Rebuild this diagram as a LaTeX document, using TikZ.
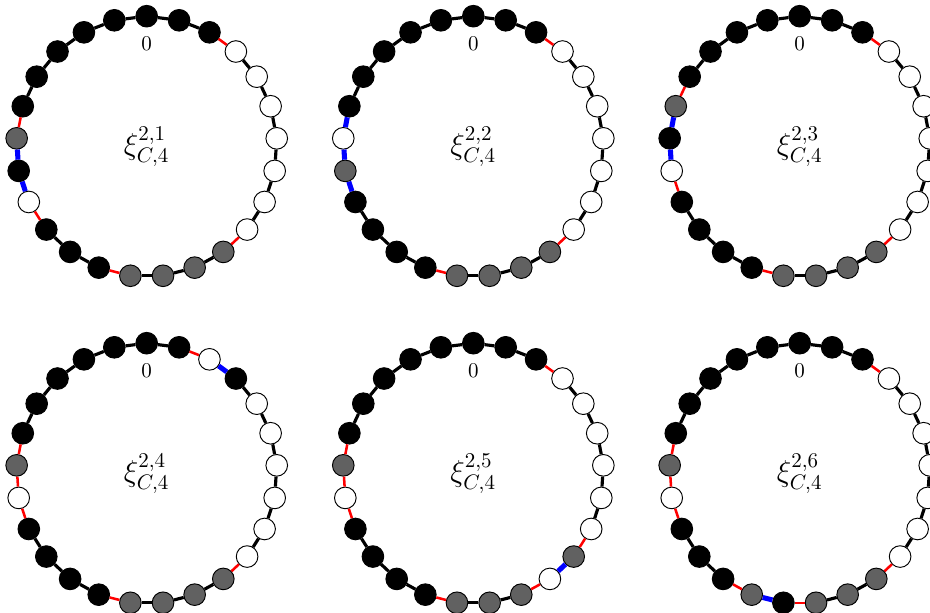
\documentclass[tikz,border=0pt]{standalone}
\usetikzlibrary{calc}
\tikzset{
  vbase/.style={circle, draw=black, line width=0.45pt, inner sep=0pt, minimum size=10.3pt},
  vB/.style={vbase, fill=black},
  vW/.style={vbase, fill=white},
  vG/.style={vbase, fill=black!62},
  ek/.style={draw=black, line width=1.5pt},
  er/.style={draw=red, line width=1.2pt},
  eb/.style={draw=blue, line width=2.4pt},
  zerolab/.style={inner sep=0pt, font=\normalsize},
  xilab/.style={inner sep=0pt, font=\Large},
}
\newcommand\myring[6]{%
  \foreach \c [count=\i from 0] in {#4} {
    \pgfmathsetmacro\a{90-14.4*\i}
    \node[v\c] (#1-\i) at ({#2+130.3*cos(\a)},{#3-130.3*sin(\a)}) {};
  }
  \foreach \e [count=\i from 0] in {#5} {
    \pgfmathtruncatemacro\j{mod(\i+1,25)}
    \draw[e\e] (#1-\i) -- (#1-\j);
  }
  \node[zerolab] (#1-z) at (#2,#3-102.5) {0};
  \node[xilab] (#1-x) at (#2,#3) {$\xi^{2,#6}_{C,4}$};
}
\begin{document}
\begin{tikzpicture}[x=0.476pt,y=-0.476pt]
\useasboundingbox (0,0) rectangle (930,612);
% circle 1
\myring{a}{146.7}{146.5}
 {B,B,B,W,W,W,W,W,W,W,G,G,G,G,B,B,B,W,B,G,B,B,B,B,B}
 {k,k,r,k,k,k,k,k,k,r,k,k,k,r,k,k,r,b,b,r,k,k,k,k,k}{1}
% circle 2
\myring{b}{473.3}{146.5}
 {B,B,B,W,W,W,W,W,W,W,G,G,G,G,B,B,B,B,G,W,B,B,B,B,B}
 {k,k,r,k,k,k,k,k,k,r,k,k,k,r,k,k,k,b,b,b,k,k,k,k,k}{2}
% circle 3
\myring{c}{799.7}{146.5}
 {B,B,B,W,W,W,W,W,W,W,G,G,G,G,B,B,B,B,W,B,G,B,B,B,B}
 {k,k,r,k,k,k,k,k,k,r,k,k,k,r,k,k,k,r,b,b,r,k,k,k,k}{3}
% circle 4
\myring{d}{146.7}{473.5}
 {B,B,W,B,W,W,W,W,W,W,G,G,G,G,B,B,B,B,W,G,B,B,B,B,B}
 {k,r,b,k,k,k,k,k,k,r,k,k,k,r,k,k,k,r,r,r,k,k,k,k,k}{4}
% circle 5
\myring{e}{473.3}{473.5}
 {B,B,B,W,W,W,W,W,W,G,W,G,G,G,B,B,B,B,W,G,B,B,B,B,B}
 {k,k,r,k,k,k,k,k,r,b,r,k,k,r,k,k,k,r,r,r,k,k,k,k,k}{5}
% circle 6
\myring{f}{799.7}{473.5}
 {B,B,B,W,W,W,W,W,W,W,G,G,G,B,G,B,B,B,W,G,B,B,B,B,B}
 {k,k,r,k,k,k,k,k,k,r,k,k,r,b,r,k,k,r,r,r,k,k,k,k,k}{6}
\end{tikzpicture}
\end{document}
